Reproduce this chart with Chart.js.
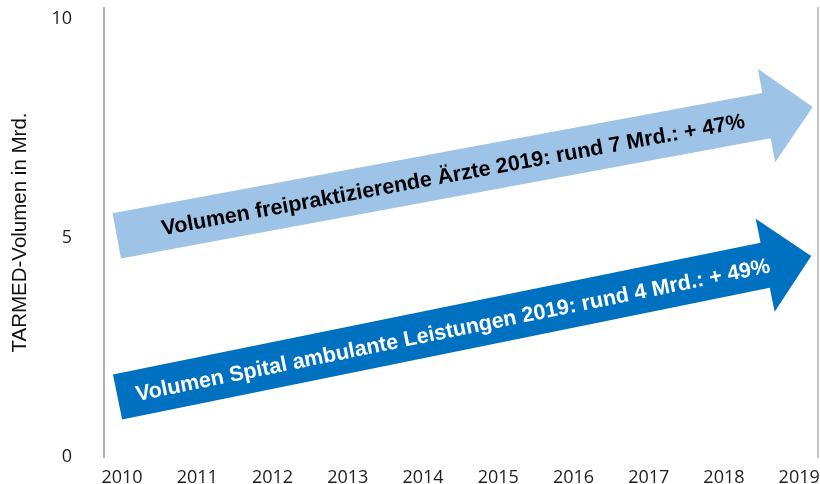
<!DOCTYPE html>
<html>
<head>
<meta charset="utf-8">
<script src="https://cdn.jsdelivr.net/npm/chart.js@4/dist/chart.umd.min.js"></script>
<style>
html, body { margin: 0; padding: 0; background: #fff; }
#wrap { width: 820px; height: 484px; }
</style>
</head>
<body>
<div id="wrap"><canvas id="myChart"></canvas></div>
<script>
const years = [2010, 2011, 2012, 2013, 2014, 2015, 2016, 2017, 2018, 2019];
const yTicks = [0, 5, 10];
const arrowNames = [
    "Volumen freipraktizierende Ärzte 2019: rund 7 Mrd.: + 47%",
    "Volumen Spital ambulante Leistungen 2019: rund 4 Mrd.: + 49%"
];
const arrowStartYear = [2009.93, 2009.94];
const arrowEndYear = [2019.18, 2019.16];
const arrowStartValue = [5.05, 1.37];
const arrowEndValue = [7.99, 4.59];
const arrowColors = ["#9dc3e6", "#0070c0"];
const textColors = ["#000000", "#ffffff"];

// arrows drawn between the two points of each dataset
const arrowPlugin = {
    id: "arrows",
    afterDatasetsDraw(chart) {
        const ctx = chart.ctx;
        chart.data.datasets.forEach((ds, i) => {
            const pts = chart.getDatasetMeta(i).data;
            const a = pts[0], b = pts[1];
            const len = Math.hypot(b.x - a.x, b.y - a.y);
            const ang = Math.atan2(b.y - a.y, b.x - a.x);
            const hw = 23, hh = 47.5, hl = 47;
            ctx.save();
            ctx.translate(a.x, a.y);
            ctx.rotate(ang);
            ctx.beginPath();
            ctx.moveTo(0, -hw);
            ctx.lineTo(len - hl, -hw);
            ctx.lineTo(len - hl, -hh);
            ctx.lineTo(len, 0);
            ctx.lineTo(len - hl, hh);
            ctx.lineTo(len - hl, hw);
            ctx.lineTo(0, hw);
            ctx.closePath();
            ctx.fillStyle = arrowColors[i];
            ctx.fill();
            ctx.font = "bold 21.5px 'Liberation Sans', Arial, sans-serif";
            ctx.fillStyle = textColors[i];
            ctx.textAlign = "center";
            ctx.textBaseline = "middle";
            ctx.fillText(ds.label, len / 2 - 12, 2);
            ctx.restore();
        });
    }
};

const datasets = arrowNames.map((name, i) => ({
    label: name,
    data: [
        { x: arrowStartYear[i], y: arrowStartValue[i] },
        { x: arrowEndYear[i], y: arrowEndValue[i] }
    ],
    pointRadius: 0,
    showLine: false,
    backgroundColor: arrowColors[i]
}));

new Chart("myChart", {
    type: "scatter",
    data: { datasets: datasets },
    plugins: [arrowPlugin],
    options: {
        responsive: true,
        maintainAspectRatio: false,
        animation: false,
        layout: { padding: { top: 8, right: 0, bottom: 1, left: 0 } },
        plugins: {
            legend: { display: false },
            tooltip: { enabled: false }
        },
        scales: {
            x: {
                type: "linear",
                min: 2009.76,
                max: 2019.25,
                afterBuildTicks: s => { s.ticks = years.map(v => ({ value: v })); },
                afterFit: s => { s.height = 26; s.paddingLeft = 0; s.paddingRight = 0; },
                ticks: {
                    callback: v => String(v),
                    font: { family: "'Open Sans', sans-serif", size: 18 },
                    color: "#1e1e1e",
                    padding: 10,
                    maxRotation: 0,
                    autoSkip: false
                },
                grid: { display: false, drawTicks: false },
                border: { display: false }
            },
            y: {
                min: 0,
                max: 10.25,
                afterBuildTicks: s => { s.ticks = yTicks.map(v => ({ value: v })); },
                afterFit: s => { s.width = 104; s.paddingTop = 0; s.paddingBottom = 0; },
                ticks: {
                    font: { family: "'Open Sans', sans-serif", size: 18 },
                    color: "#1e1e1e",
                    padding: 32
                },
                title: {
                    display: true,
                    text: "TARMED-Volumen in Mrd.",
                    font: { family: "'Liberation Sans', Arial, sans-serif", size: 20.5 },
                    color: "#111",
                    padding: { top: 8, bottom: 0 }
                },
                grid: { display: false, drawTicks: false },
                border: { color: "#b3b3b3", width: 2 }
            },
            y2: {
                position: "right",
                min: 0,
                max: 10,
                afterFit: s => { s.width = 2; s.paddingTop = 0; s.paddingBottom = 0; },
                ticks: { display: false },
                grid: { display: false, drawTicks: false },
                border: { color: "#c4c4c4", width: 2 }
            }
        }
    }
});
</script>
</body>
</html>
